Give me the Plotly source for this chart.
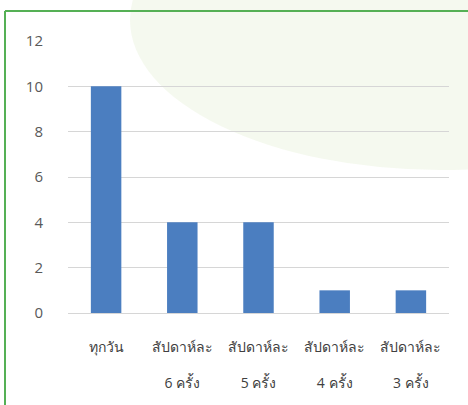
import plotly.graph_objects as go

categories = ["ทุกวัน", "สัปดาห์ละ<br><br>6 ครั้ง", "สัปดาห์ละ<br><br>5 ครั้ง",
              "สัปดาห์ละ<br><br>4 ครั้ง", "สัปดาห์ละ<br><br>3 ครั้ง"]
values = [10, 4, 4, 1, 1]
y_ticks = [0, 2, 4, 6, 8, 10, 12]

# pixel layout helpers
L, R, T, B = 68, 19, 41, 92
W, H = 468, 405
pw, ph = W - L - R, H - T - B
def px(x):
    return (x - L) / pw
def py(y):
    return (H - B - y) / ph

fig = go.Figure()
fig.add_trace(go.Bar(
    x=categories, y=values,
    marker=dict(color="#4b7ec0", line=dict(width=0)),
    width=0.4,
))

fig.update_layout(
    width=W, height=H,
    margin=dict(l=L, r=R, t=T, b=B, pad=0),
    paper_bgcolor="white", plot_bgcolor="rgba(0,0,0,0)",
    showlegend=False,
    font=dict(family="Open Sans, Noto Sans, sans-serif", color="#404040"),
    xaxis=dict(showgrid=False, showline=False, ticks="",
               tickfont=dict(size=14, color="#404040"),
               ticklabelstandoff=24,
               range=[-0.5, 4.5], fixedrange=True),
    yaxis=dict(range=[0, 12], tickvals=y_ticks, showgrid=True,
               gridcolor="#d6d6d6", gridwidth=1, zeroline=True,
               zerolinecolor="#d6d6d6", zerolinewidth=1,
               showline=False, ticks="",
               tickfont=dict(size=15, color="#595959"),
               ticklabelstandoff=24),
    shapes=[
        dict(type="circle", xref="paper", yref="paper", layer="below",
             x0=px(130), x1=px(750), y0=py(170), y1=py(-130),
             fillcolor="rgba(205,225,175,0.2)", line=dict(width=0)),
        dict(type="line", xref="paper", yref="paper", layer="above",
             x0=px(5), x1=px(480), y0=py(11), y1=py(11),
             line=dict(color="#55b055", width=2)),
        dict(type="line", xref="paper", yref="paper", layer="above",
             x0=px(5), x1=px(5), y0=py(11), y1=py(420),
             line=dict(color="#55b055", width=2)),
    ],
)

fig.write_html("out.html", config={"displayModeBar": False},
               post_script="document.body.style.margin='0';")
